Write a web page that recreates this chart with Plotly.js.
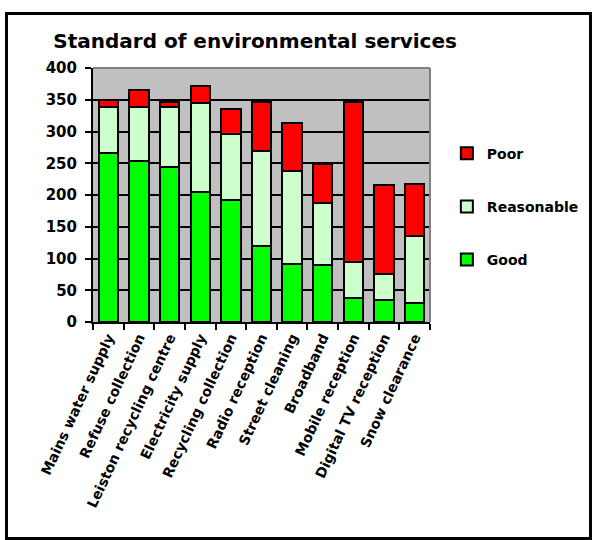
<!DOCTYPE html>
<html><head><meta charset="utf-8">
<script src="https://cdn.plot.ly/plotly-3.0.1.min.js"></script>
<style>body{margin:0;background:#fff}#wrap{position:relative;width:592px;height:540px}#chart{width:592px;height:540px}#frame{position:absolute;left:5px;top:12px;width:581px;height:522px;border:3px solid #000;pointer-events:none}</style>
</head><body><div id="wrap"><div id="chart"></div><div id="frame"></div></div>
<script>
const categories = ["Mains water supply","Refuse collection","Leiston recycling centre","Electricity supply","Recycling collection","Radio reception","Street cleaning","Broadband","Mobile reception","Digital TV reception","Snow clearance"];
const good = [266,254,244,205,192,119,91,89,38,34,30];
const reasonable = [73,85,95,140,104,151,147,99,56,42,105];
const poor = [10,26,8,27,39,77,75,61,253,139,82];
const yTicks = [0,50,100,150,200,250,300,350,400];

const F = "'DejaVu Sans', sans-serif";
const line = {color:'#000', width:2};
const traces = [
  {type:'bar', name:'Good', x:categories, y:good, marker:{color:'#00ff00', line:line}, legendgroup:'g', legendrank:3},
  {type:'bar', name:'Reasonable', x:categories, y:reasonable, marker:{color:'#ccffcc', line:line}, legendgroup:'r', legendrank:2},
  {type:'bar', name:'Poor', x:categories, y:poor, marker:{color:'#ff0000', line:line}, legendgroup:'p', legendrank:1}
];
const layout = {
  width:592, height:540,
  margin:{l:93, r:162, t:68, b:218, autoexpand:false},
  paper_bgcolor:'#fff', plot_bgcolor:'#c0c0c0',
  barmode:'stack', bargap:0.37,
  font:{family:F, color:'#000'},
  title:{text:'<b>Standard of environmental services</b>', font:{family:F, size:20, color:'#000'}, x:0.09, xanchor:'left', xref:'container', y:0.925, yanchor:'middle', yref:'container'},
  xaxis:{tickangle:-65, tickson:'boundaries', ticks:'outside', ticklen:6, tickwidth:2, tickcolor:'#000', showline:true, linecolor:'#000', linewidth:2, showgrid:false, tickfont:{family:F, size:14, color:'#000', weight:'bold'}, automargin:false},
  yaxis:{range:[0,400], tickvals:yTicks, ticktext:yTicks.map(String), ticks:'outside', ticklen:6, tickwidth:2, tickcolor:'#000', showline:true, linecolor:'#000', linewidth:2, showgrid:true, gridcolor:'#000', gridwidth:2, zeroline:false, tickfont:{family:F, size:15, color:'#000', weight:'bold'}, ticklabelstandoff:5, automargin:false},
  legend:{x:1.05, xanchor:'left', y:0.726, yanchor:'top', traceorder:'grouped', tracegroupgap:32, font:{family:F, size:14, color:'#000', weight:'bold'}, bgcolor:'rgba(0,0,0,0)', itemwidth:30},
  shapes:[
    {type:'line', xref:'paper', yref:'paper', x0:0, x1:1, y0:1, y1:1, line:{color:'#808080', width:2}},
    {type:'line', xref:'paper', yref:'paper', x0:1, x1:1, y0:0, y1:1, line:{color:'#808080', width:2}}
  ],
  showlegend:true
};
Plotly.newPlot('chart', traces, layout, {displayModeBar:false, staticPlot:true});
</script></body></html>
